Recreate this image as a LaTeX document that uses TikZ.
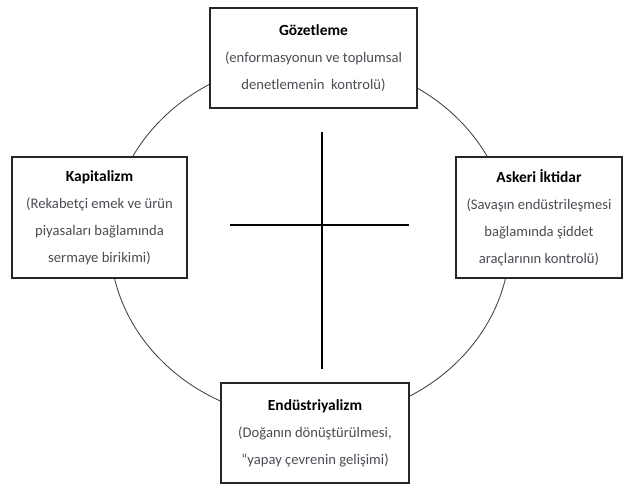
\documentclass[tikz,border=0pt]{standalone}
\usepackage{fontspec}
\setmainfont{Carlito}
\usepackage{tikz}
\definecolor{desc-gray}{rgb}{0.30,0.30,0.33}
\tikzset{
  kutu/.style={draw=black!85, line width=1.1pt, fill=white, inner sep=0pt, align=center,
    font=\fontsize{10.4}{19.2}\selectfont},
  cizgi/.style={line width=0.8pt}
}
\newcommand{\aciklama}[1]{\textcolor{desc-gray}{#1}}
\newcommand{\baslik}[1]{{\fontsize{11}{19.2}\selectfont\textbf{#1}}}

\begin{document}
\begin{tikzpicture}[x=0.025cm, y=-0.025cm]%Dort kurum
\useasboundingbox (0,0) rectangle (624,489);
% circle behind the boxes
\draw [black!75, line width=0.6pt] (310,240) ellipse [x radius=5cm, y radius=4.5cm];
% the cross
  \draw [cizgi] (322,132) -- (322,369);
  \draw [cizgi] (230,225) -- (409,225);
% boxes
  \node [kutu, minimum width=5.175cm, minimum height=2.5cm] (gozetleme) at (313.5,58)
    {\baslik{Gözetleme}\\ \aciklama{(enformasyonun ve toplumsal}\\ \aciklama{denetlemenin~ kontrolü)}};
  \node [kutu, minimum width=4.375cm, minimum height=3.025cm] (kapitalizm) at (99.5,217.5)
    {\baslik{Kapitalizm}\\ \aciklama{(Rekabetçi emek ve ürün}\\ \aciklama{piyasaları bağlamında}\\ \aciklama{sermaye birikimi)}};
  \node [kutu, minimum width=4.15cm, minimum height=3.025cm] (askeri) at (539,217.5)
    {\baslik{Askeri İktidar}\\ \aciklama{(Savaşın endüstrileşmesi}\\ \aciklama{bağlamında şiddet}\\ \aciklama{araçlarının kontrolü)}};
  \node [kutu, minimum width=4.7cm, minimum height=2.5cm] (endustri) at (315,433)
    {\baslik{Endüstriyalizm}\\ \aciklama{(Doğanın dönüştürülmesi,}\\ \aciklama{“yapay çevrenin gelişimi)}};
\end{tikzpicture}
\end{document}
